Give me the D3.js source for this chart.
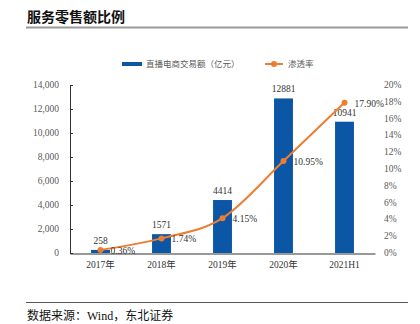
<!DOCTYPE html>
<html>
<head>
<meta charset="utf-8">
<script src="https://cdn.jsdelivr.net/npm/d3@7"></script>
<style>
  body { margin: 0; background: #fff; }
  svg { display: block; }
</style>
</head>
<body>
<svg width="420" height="324"></svg>
<script>
// chart data
var years = ["2017年", "2018年", "2019年", "2020年", "2021H1"];
var gmv = [258, 1571, 4414, 12881, 10941];
var rate = [0.36, 1.74, 4.15, 10.95, 17.90];
var leftTicks = [0, 2000, 4000, 6000, 8000, 10000, 12000, 14000];
var rightTicks = [0, 2, 4, 6, 8, 10, 12, 14, 16, 18, 20];

var serif = "'Liberation Serif', 'Noto Sans CJK SC', serif";
var grey = "#595959";
var blue = "#0c56a6";
var orange = "#ed7d31";

var svg = d3.select("svg");

// title + rules
svg.append("text")
  .attr("x", 27).attr("y", 22)
  .attr("font-family", "'Noto Sans CJK SC', sans-serif")
  .attr("font-size", 14).attr("font-weight", "bold")
  .attr("fill", "#111")
  .text("服务零售额比例");
svg.append("line").attr("x1", 26).attr("x2", 408).attr("y1", 27.5).attr("y2", 27.5)
  .attr("stroke", "#9a9a9a").attr("stroke-width", 2);
svg.append("line").attr("x1", 26).attr("x2", 408).attr("y1", 302.5).attr("y2", 302.5)
  .attr("stroke", "#555").attr("stroke-width", 1);
svg.append("text")
  .attr("x", 27).attr("y", 320)
  .attr("font-family", serif).attr("font-size", 12).attr("fill", "#111")
  .text("数据来源：Wind，东北证券");

// scales
var x = d3.scaleBand().domain(years).range([70, 375]).paddingInner(0.69).paddingOuter(0.345);
var y = d3.scaleLinear().domain([0, 14000]).range([253, 85]);
var y2 = d3.scaleLinear().domain([0, 20]).range([253, 85]);

// bars
svg.selectAll(".bar")
  .data(gmv)
  .enter()
  .append("rect")
  .attr("class", "bar")
  .attr("x", function(d, i){ return x(years[i]); })
  .attr("y", function(d){ return y(d); })
  .attr("width", x.bandwidth())
  .attr("height", function(d){ return y(0) - y(d); })
  .attr("fill", blue);

svg.selectAll(".barlab")
  .data(gmv)
  .enter()
  .append("text")
  .attr("x", function(d, i){ return x(years[i]) + x.bandwidth() / 2; })
  .attr("y", function(d){ return y(d) - 6; })
  .attr("text-anchor", "middle")
  .attr("font-family", serif).attr("font-size", 9.5).attr("fill", "#333")
  .text(function(d){ return d; });

// left axis
var left = svg.append("g").attr("transform", "translate(70,0)")
  .call(d3.axisRight(y).tickValues(leftTicks).tickSize(3).tickFormat(""));
left.selectAll("path, line").attr("stroke", "#333");
left.select(".domain").attr("d", "M3,85.5H0.5V253");
svg.selectAll(".ylab")
  .data(leftTicks)
  .enter()
  .append("text")
  .attr("x", 59).attr("y", function(d){ return y(d) + 3; })
  .attr("text-anchor", "end")
  .attr("font-family", serif).attr("font-size", 9.5).attr("fill", grey)
  .text(d3.format(","));

// right labels
svg.selectAll(".y2lab")
  .data(rightTicks)
  .enter()
  .append("text")
  .attr("x", 384).attr("y", function(d){ return y2(d) + 3; })
  .attr("font-family", serif).attr("font-size", 9.5).attr("fill", grey)
  .text(function(d){ return d + "%"; });

// x axis
var bottom = svg.append("g").attr("transform", "translate(0,253.5)")
  .call(d3.axisBottom(x).tickSize(0).tickPadding(8));
bottom.select(".domain").attr("stroke", "#333");
bottom.selectAll("text").attr("font-family", serif).attr("font-size", 9.5).attr("fill", "#333");

// rate line
var pts = rate.map(function(d, i){ return [x(years[i]) + x.bandwidth() / 2, y2(d)]; });
svg.append("path")
  .attr("d", d3.line().curve(d3.curveMonotoneX)(pts))
  .attr("fill", "none").attr("stroke", orange).attr("stroke-width", 2);
svg.selectAll(".dot")
  .data(pts)
  .enter()
  .append("circle")
  .attr("cx", function(d){ return d[0]; })
  .attr("cy", function(d){ return d[1]; })
  .attr("r", 3).attr("fill", orange);
svg.selectAll(".ratelab")
  .data(rate)
  .enter()
  .append("text")
  .attr("x", function(d, i){ return pts[i][0] + 10; })
  .attr("y", function(d, i){ return pts[i][1] + 4; })
  .attr("font-family", serif).attr("font-size", 9.5).attr("fill", "#333")
  .text(function(d){ return d.toFixed(2) + "%"; });

// legend
svg.append("rect").attr("x", 122).attr("y", 62).attr("width", 20).attr("height", 4).attr("fill", blue);
svg.append("text").attr("x", 146).attr("y", 67)
  .attr("font-family", serif).attr("font-size", 8.5).attr("fill", grey)
  .text("直播电商交易额（亿元）");
svg.append("line").attr("x1", 265).attr("x2", 283).attr("y1", 64).attr("y2", 64)
  .attr("stroke", orange).attr("stroke-width", 2);
svg.append("circle").attr("cx", 274).attr("cy", 64).attr("r", 3).attr("fill", orange);
svg.append("text").attr("x", 288).attr("y", 67)
  .attr("font-family", serif).attr("font-size", 8.5).attr("fill", grey)
  .text("渗透率");
</script>
</body>
</html>
